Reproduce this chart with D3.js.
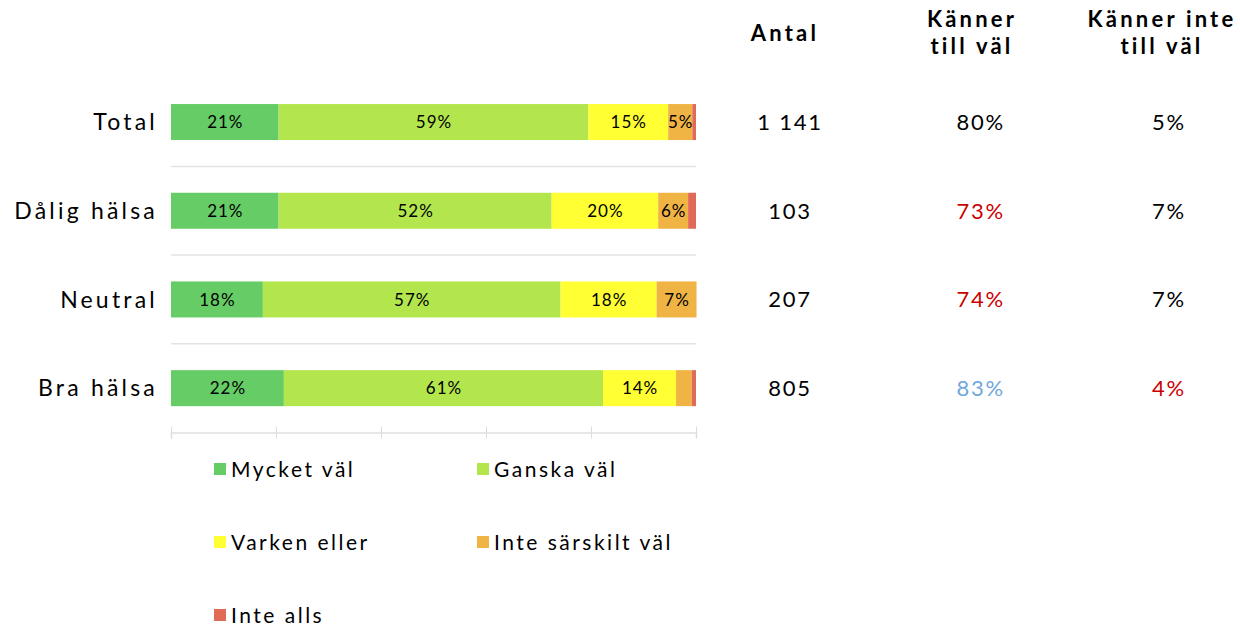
<!DOCTYPE html>
<html>
<head>
<meta charset="utf-8">
<script src="https://cdn.jsdelivr.net/npm/d3@7"></script>
<style>
  body { margin: 0; background: #fff; }
  svg { font-family: "Century Gothic", "URW Gothic", "Lato", "DejaVu Sans", sans-serif; }
</style>
</head>
<body>
<svg id="chart" width="1240" height="627"></svg>
<script>
const categories = ["Total", "Dålig hälsa", "Neutral", "Bra hälsa"];
const series = ["Mycket väl", "Ganska väl", "Varken eller", "Inte särskilt väl", "Inte alls"];
const colors = ["#66cc66", "#b3e64d", "#ffff33", "#f0b445", "#e06a55"];

// andel per svarsalternativ (0-1), en lista per serie
const myckeVal   = [0.205, 0.205, 0.175, 0.215];
const ganskaVal  = [0.590, 0.520, 0.567, 0.608];
const varkenEller = [0.152, 0.203, 0.183, 0.139];
const inteSarskilt = [0.046, 0.057, 0.076, 0.030];
const inteAlls   = [0.007, 0.015, 0.000, 0.008];
const barLabels = [
  ["21%", "59%", "15%", "5%", ""],
  ["21%", "52%", "20%", "6%", ""],
  ["18%", "57%", "18%", "7%", ""],
  ["22%", "61%", "14%", "", ""]
];

const antal = ["1 141", "103", "207", "805"];
const kannerVal = ["80%", "73%", "74%", "83%"];
const kannerInte = ["5%", "7%", "7%", "4%"];
const kannerValColor = ["#000", "#cc0000", "#cc0000", "#6fa8dc"];
const kannerInteColor = ["#000", "#000", "#000", "#cc0000"];

const seriesValues = [myckeVal, ganskaVal, varkenEller, inteSarskilt, inteAlls];
const rows = categories.map((c, i) => {
  const r = { cat: c };
  series.forEach((s, j) => r[s] = seriesValues[j][i]);
  return r;
});

const svg = d3.select("#chart");
const x = d3.scaleLinear().domain([0, 1]).range([171, 696]);
const y = d3.scaleBand().domain(categories).range([77.7, 432.5]);
const barH = 36;

const stack = d3.stack().keys(series)(rows);

// separators between rows
svg.append("g").selectAll("line")
  .data(categories.slice(1))
  .join("line")
  .attr("x1", x(0)).attr("x2", x(1))
  .attr("y1", d => y(d)).attr("y2", d => y(d))
  .attr("stroke", "#e3e3e3").attr("stroke-width", 1.5);

// axis
const axis = svg.append("g")
  .attr("transform", `translate(0,${y.range()[1]})`)
  .call(d3.axisBottom(x).tickValues([0, 0.2, 0.4, 0.6, 0.8, 1]).tickSize(6).tickFormat(""));
axis.select(".domain").attr("stroke", "#e0e0e0").attr("stroke-width", 1.5);
axis.selectAll(".tick line").attr("stroke", "#dcdcdc").attr("y1", -6).attr("y2", 6);

// bars
const layer = svg.append("g").selectAll("g")
  .data(stack)
  .join("g")
  .attr("fill", (d, i) => colors[i]);

layer.selectAll("rect")
  .data(d => d)
  .join("rect")
  .attr("x", d => x(d[0]))
  .attr("width", d => x(d[1]) - x(d[0]))
  .attr("y", d => y(d.data.cat) + y.bandwidth() / 2 - barH / 2)
  .attr("height", barH);

// bar labels
stack.forEach((s, j) => {
  svg.append("g").selectAll("text")
    .data(s)
    .join("text")
    .attr("x", d => (x(d[0]) + x(d[1])) / 2 + 0.5)
    .attr("y", d => y(d.data.cat) + y.bandwidth() / 2)
    .attr("dy", "0.36em")
    .attr("text-anchor", "middle")
    .attr("font-size", 17)
    .attr("letter-spacing", 1)
    .attr("fill", "#000")
    .text((d, i) => barLabels[i][j]);
});

// category labels
svg.append("g").selectAll("text")
  .data(categories)
  .join("text")
  .attr("x", 158)
  .attr("y", d => y(d) + y.bandwidth() / 2)
  .attr("dy", "0.36em")
  .attr("text-anchor", "end")
  .attr("font-size", 23)
  .attr("letter-spacing", 3.2)
  .attr("fill", "#000")
  .text(d => d);

// table columns
const cols = [
  { head: ["Antal"], vals: antal, cx: 790, hx: 785, anchor: "middle", color: () => "#000" },
  { head: ["Känner", "till väl"], vals: kannerVal, cx: 1005, hx: 972, anchor: "end", color: i => kannerValColor[i] },
  { head: ["Känner inte", "till väl"], vals: kannerInte, cx: 1186, hx: 1162, anchor: "end", color: i => kannerInteColor[i] }
];

cols.forEach(c => {
  const h = svg.append("text")
    .attr("x", c.hx)
    .attr("text-anchor", "middle")
    .attr("font-size", 22)
    .attr("font-weight", "bold")
    .attr("letter-spacing", 3.2)
    .attr("fill", "#000");
  if (c.head.length === 1) {
    h.attr("y", 41).text(c.head[0]);
  } else {
    h.selectAll("tspan").data(c.head).join("tspan")
      .attr("x", c.hx)
      .attr("y", (d, i) => 27 + i * 27)
      .text(d => d);
  }
  svg.append("g").selectAll("text")
    .data(c.vals)
    .join("text")
    .attr("x", c.cx)
    .attr("y", (d, i) => y(categories[i]) + y.bandwidth() / 2)
    .attr("dy", "0.36em")
    .attr("text-anchor", c.anchor)
    .attr("font-size", 22)
    .attr("letter-spacing", 1.8)
    .attr("fill", (d, i) => c.color(i))
    .text(d => d);
});

// legend
const legend = svg.append("g").selectAll("g")
  .data(series)
  .join("g")
  .attr("transform", (d, i) => `translate(${i % 2 === 0 ? 214 : 477},${469 + Math.floor(i / 2) * 73})`);

legend.append("rect")
  .attr("x", 0).attr("y", -6)
  .attr("width", 12).attr("height", 12)
  .attr("fill", (d, i) => colors[i]);

legend.append("text")
  .attr("x", 17)
  .attr("dy", "0.36em")
  .attr("font-size", 21)
  .attr("letter-spacing", 2.5)
  .attr("fill", "#000")
  .text(d => d);
</script>
</body>
</html>
